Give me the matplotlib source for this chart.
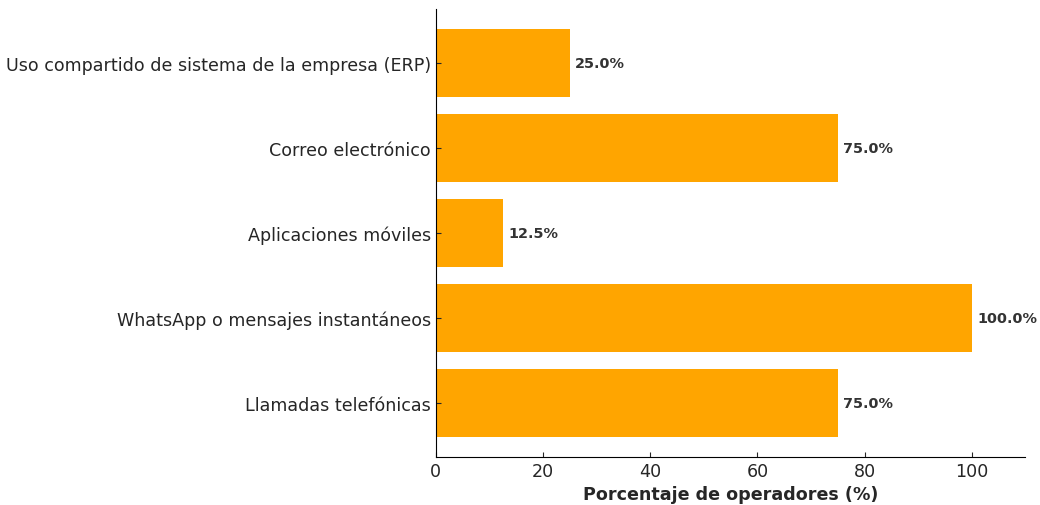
import matplotlib.pyplot as plt

# Canales de comunicación usados por los operadores
canales = [
    "Llamadas telefónicas",
    "WhatsApp o mensajes instantáneos",
    "Aplicaciones móviles",
    "Correo electrónico",
    "Uso compartido de sistema de la empresa (ERP)",
]
porcentajes = [75.0, 100.0, 12.5, 75.0, 25.0]

texto = "#262626"
plt.rcParams["font.family"] = ["DejaVu Sans"]
plt.rcParams["text.color"] = texto
plt.rcParams["axes.labelcolor"] = texto
plt.rcParams["xtick.color"] = texto
plt.rcParams["ytick.color"] = texto

fig, ax = plt.subplots(figsize=(10.4, 5.06), dpi=100)
barras = ax.barh(canales, porcentajes, color="orange", height=0.8)

# Etiquetas con el valor al final de cada barra
for barra, valor in zip(barras, porcentajes):
    ax.text(barra.get_width() + 1, barra.get_y() + barra.get_height() / 2,
            f"{valor:.1f}%", va="center", ha="left",
            fontsize=10.4, fontweight="bold", color="#333333")

ax.set_xlim(0, 110)
ax.set_xlabel("Porcentaje de operadores (%)", fontsize=12.6, fontweight="bold")
ax.tick_params(axis="both", labelsize=12.6, direction="in")
ax.spines["top"].set_visible(False)
ax.spines["right"].set_visible(False)

fig.subplots_adjust(left=0.419, right=0.986, top=0.98, bottom=0.095)
plt.savefig("out.png", dpi=100)
